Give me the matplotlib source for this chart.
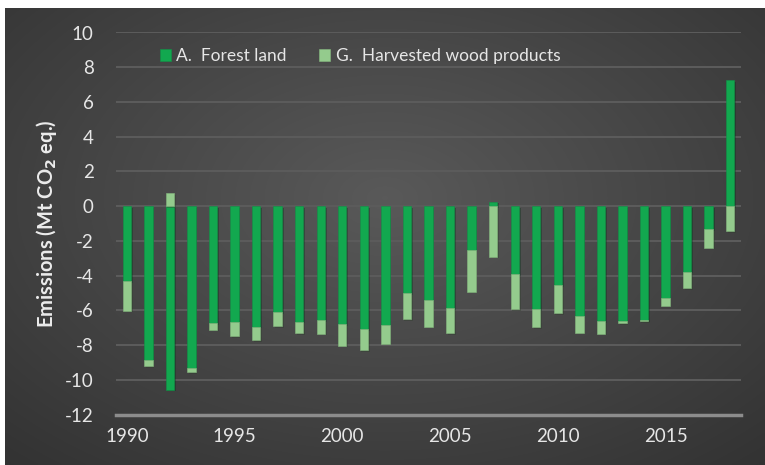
import numpy as np
import matplotlib
matplotlib.use("Agg")
import matplotlib.pyplot as plt
import matplotlib.patheffects as pe

years = list(range(1990, 2019))
forest_land = [-4.34, -8.89, -10.57, -9.31, -6.73, -6.67, -6.94, -6.10, -6.65, -6.56,
               -6.79, -7.09, -6.83, -5.01, -5.41, -5.89, -2.52, 0.25, -3.90, -5.93,
               -4.54, -6.34, -6.64, -6.64, -6.55, -5.27, -3.78, -1.34, 7.27]
harvested_wood = [-1.68, -0.33, 0.76, -0.25, -0.38, -0.82, -0.77, -0.82, -0.65, -0.78,
                  -1.24, -1.19, -1.09, -1.49, -1.53, -1.43, -2.41, -2.91, -2.03, -1.05,
                  -1.62, -0.95, -0.71, -0.10, -0.09, -0.46, -0.93, -1.06, -1.45]
series_labels = ["A.  Forest land", "G.  Harvested wood products"]
y_ticks = list(range(-12, 11, 2))
x_ticks = [1990, 1995, 2000, 2005, 2010, 2015]

plt.rcParams['font.family'] = ['Lato', 'DejaVu Sans']
plt.rcParams['axes.unicode_minus'] = False

fig = plt.figure(figsize=(7.65, 4.65), dpi=100)
fig.patch.set_facecolor("white")

# dark radial gradient panel behind everything
bg = fig.add_axes([5 / 765, 0, 1 - 5 / 765, 1 - 8 / 465], zorder=0)
gx, gy = np.meshgrid(np.linspace(-1, 1, 300), np.linspace(-1, 1, 200))
r = np.sqrt((gx * 0.95) ** 2 + (gy * 0.9 + 0.15) ** 2)
shade = 0.35 - 0.15 * np.clip(r, 0, 1.4) / 1.4
img = np.dstack([shade, shade, shade])
bg.imshow(img, aspect="auto", extent=[0, 1, 0, 1], interpolation="bilinear")
bg.axis("off")

ax = fig.add_axes([116 / 765, 1 - 414.5 / 465, 625 / 765, (414.5 - 32.5) / 465], zorder=1)
ax.patch.set_alpha(0)

forest = np.array(forest_land)
hwp = np.array(harvested_wood)
hwp_bottom = np.where(np.sign(hwp) == np.sign(forest), forest, 0)

shadow = [pe.SimplePatchShadow(offset=(1.2, -1.2), alpha=0.35), pe.Normal()]
b1 = ax.bar(years, forest, width=0.39, color="#12A84F", edgecolor="#0f9446",
            linewidth=0.4, zorder=3, label=series_labels[0])
b2 = ax.bar(years, hwp, bottom=hwp_bottom, width=0.39, color="#94CB8D",
            edgecolor="#86b980", linewidth=0.4, zorder=3, label=series_labels[1])
for p in list(b1) + list(b2):
    p.set_path_effects(shadow)

ax.set_xlim(1989.5, 2018.5)
ax.set_ylim(-12, 10)
ax.set_yticks(y_ticks)
ax.set_xticks(x_ticks)
ax.yaxis.grid(True, color="#5c5c5c", linewidth=1.4, zorder=1)
ax.set_axisbelow(True)
for s in ["top", "right", "left"]:
    ax.spines[s].set_visible(False)
ax.spines["bottom"].set_color("#8c8c8c")
ax.spines["bottom"].set_linewidth(2.5)
ax.spines["bottom"].set_position(("data", -12))
ax.tick_params(length=0, colors="#e6e6e6", labelsize=13.5)
ax.tick_params(axis="y", pad=16)
ax.tick_params(axis="x", pad=10)

ax.set_ylabel("Emissions (Mt CO$_\\mathbf{2}$ eq.)", color="#ececec", fontsize=14.5,
              fontweight="bold", labelpad=4)

leg = ax.legend(loc="upper left", bbox_to_anchor=(0.045, 1.0), ncol=2, frameon=False,
                fontsize=12.5, handlelength=0.63, handleheight=0.69, handletextpad=0.3,
                columnspacing=1.9, labelcolor="#e6e6e6")
for h in leg.legend_handles:
    h.set_path_effects([])

fig.savefig("out.png", dpi=100, facecolor=fig.get_facecolor())
